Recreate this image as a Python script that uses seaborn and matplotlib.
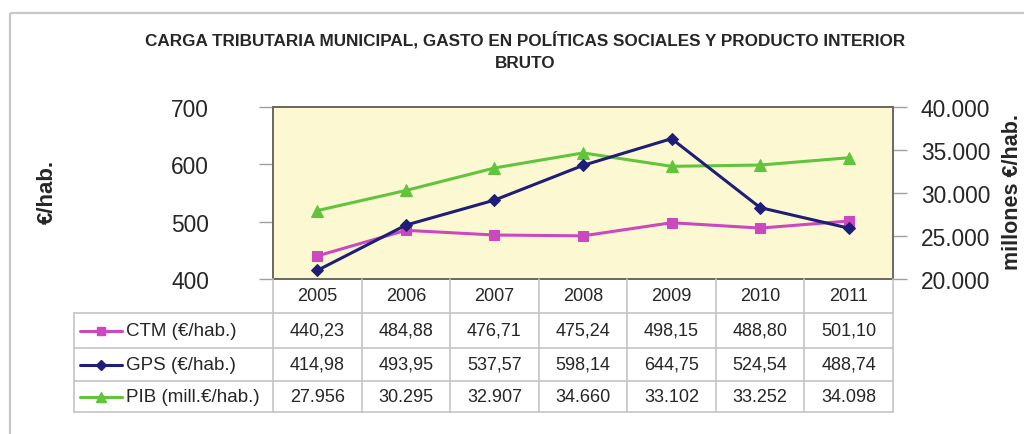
import matplotlib
matplotlib.use("Agg")
import matplotlib.pyplot as plt
from matplotlib.patches import Rectangle
from matplotlib.ticker import FuncFormatter
import seaborn as sns
import pandas as pd

# --- data -----------------------------------------------------------------
years = [2005, 2006, 2007, 2008, 2009, 2010, 2011]
ctm = [440.23, 484.88, 476.71, 475.24, 498.15, 488.80, 501.10]
gps = [414.98, 493.95, 537.57, 598.14, 644.75, 524.54, 488.74]
pib = [27956, 30295, 32907, 34660, 33102, 33252, 34098]

series_names = ["CTM (€/hab.)", "GPS (€/hab.)", "PIB (mill.€/hab.)"]
title = "CARGA TRIBUTARIA MUNICIPAL, GASTO EN POLÍTICAS SOCIALES Y PRODUCTO INTERIOR\nBRUTO"
left_label = "€/hab."
right_label = "millones €/hab."
left_ticks = [400, 500, 600, 700]
right_ticks = [20000, 25000, 30000, 35000, 40000]

# --- styling --------------------------------------------------------------
sns.set_style("white")
plt.rcParams["font.family"] = ["Liberation Sans", "DejaVu Sans"]

c_ctm = "#cc48be"
c_gps = "#1e1e78"
c_pib = "#62c43c"
grid_c = "#c4c4c4"
spine_c = "#6c6c62"
W, H = 1024, 435

df = pd.DataFrame({"idx": range(len(years)), "ctm": ctm, "gps": gps, "pib": pib})


def fmt_dec(v):
    return f"{v:.2f}".replace(".", ",")


def fmt_thou(v, pos=None):
    return f"{v:,.0f}".replace(",", ".")


fig = plt.figure(figsize=(W / 100, H / 100), dpi=100)
fig.patch.set_facecolor("white")

rect = [273 / W, (H - 280) / H, (893 - 273) / W, (280 - 108) / H]

# pale yellow plot background, drawn underneath both line axes
bg = fig.add_axes(rect, zorder=0)
bg.set_facecolor("#fcf8d2")
bg.set_xticks([])
bg.set_yticks([])

ax2 = fig.add_axes(rect, zorder=1)
ax = fig.add_axes(rect, zorder=2, sharex=ax2)
for a in (ax, ax2):
    a.patch.set_visible(False)

# PIB on the right-hand scale
sns.lineplot(data=df, x="idx", y="pib", ax=ax2, color=c_pib, lw=2.2,
             marker="^", markersize=8, markeredgecolor=c_pib)
ax2.yaxis.tick_right()
ax2.set_ylim(right_ticks[0], right_ticks[-1])
ax2.set_yticks(right_ticks)
ax2.yaxis.set_major_formatter(FuncFormatter(fmt_thou))
ax2.set_ylabel("")
ax2.tick_params(axis="y", right=True, left=False, length=10, width=1,
                color="#a0a0a0", labelsize=16.4, pad=10)

# CTM and GPS on the left-hand scale
sns.lineplot(data=df, x="idx", y="ctm", ax=ax, color=c_ctm, lw=2.2,
             marker="s", markersize=7, markeredgecolor=c_ctm)
sns.lineplot(data=df, x="idx", y="gps", ax=ax, color=c_gps, lw=2.2,
             marker="D", markersize=6.5, markeredgecolor=c_gps)
ax.set_xlim(-0.5, len(years) - 0.5)
ax.set_ylim(left_ticks[0], left_ticks[-1])
ax.set_yticks(left_ticks)
ax.set_xticks([])
ax.set_xlabel("")
ax.set_ylabel("")
ax.tick_params(axis="y", which="both", left=True, length=10, width=1,
               color="#a0a0a0", labelsize=16.4, pad=36)
ax2.set_xlabel("")

for a in (ax, ax2, bg):
    for s in a.spines.values():
        s.set_color(spine_c)
        s.set_linewidth(1.3)

fig.text(525 / W, 1 - 51 / H, title, ha="center", va="center",
         fontsize=12.3, fontweight="bold", linespacing=1.55)
fig.text(47 / W, 1 - 192 / H, left_label, rotation=90, ha="center",
         va="center", fontsize=16, fontweight="bold")
fig.text(1012 / W, 1 - 192 / H, right_label, rotation=90, ha="center",
         va="center", fontsize=15.5, fontweight="bold")

# --- data table overlay (pixel coordinates) -------------------------------
ov = fig.add_axes([0, 0, 1, 1], zorder=5)
ov.set_xlim(0, W)
ov.set_ylim(H, 0)
ov.axis("off")

# outer chart frame
ov.add_patch(Rectangle((10, 14), W + 20, H + 20, fill=False,
                       edgecolor="#c8c8c8", lw=1.6))

fig.canvas.draw()
col_edges = [ax.transData.transform((i - 0.5, 0))[0] for i in range(len(years) + 1)]
col_centers = [ax.transData.transform((i, 0))[0] for i in range(len(years))]
row_edges = [280, 314, 349, 382, 413]
table_left = 74

for x in col_edges:
    ov.plot([x, x], [row_edges[0], row_edges[-1]], color=grid_c, lw=1.2)
ov.plot([table_left, table_left], [row_edges[1], row_edges[-1]], color=grid_c, lw=1.2)
for y in row_edges[1:]:
    ov.plot([table_left, col_edges[-1]], [y, y], color=grid_c, lw=1.2)

row_mid = [(row_edges[i] + row_edges[i + 1]) / 2 for i in range(len(row_edges) - 1)]
for xc, yr in zip(col_centers, years):
    ov.text(xc, row_mid[0], str(yr), ha="center", va="center", fontsize=13)

rows = [
    (series_names[0], [fmt_dec(v) for v in ctm], c_ctm, "s", 6),
    (series_names[1], [fmt_dec(v) for v in gps], c_gps, "D", 5),
    (series_names[2], [fmt_thou(v) for v in pib], c_pib, "^", 7),
]
for (name, cells, col, mk, ms), ym in zip(rows, row_mid[1:]):
    ov.plot([80, 122], [ym, ym], color=col, lw=2.2)
    ov.plot([101], [ym], marker=mk, color=col, markersize=ms)
    ov.text(126, ym, name, ha="left", va="center", fontsize=13.5)
    for xc, t in zip(col_centers, cells):
        ov.text(xc, ym, t, ha="center", va="center", fontsize=13)

fig.savefig("out.png", dpi=100, facecolor="white")
